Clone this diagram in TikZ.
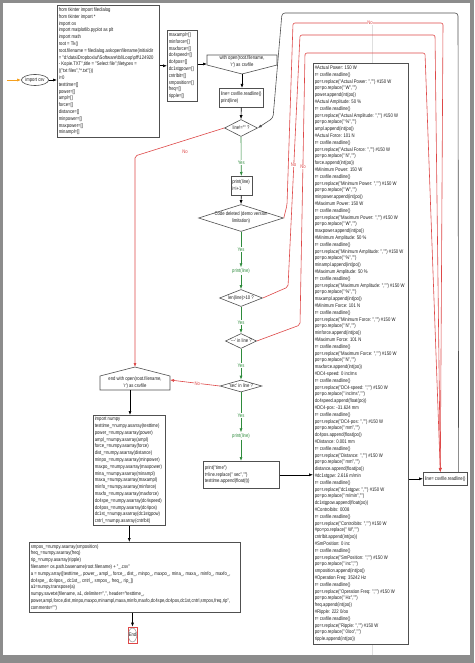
\documentclass[tikz,border=0pt]{standalone}
\usepackage{fontspec}
\newfontfamily\cf[FakeStretch=0.81,Ligatures=TeXOff]{Liberation Sans}
\usetikzlibrary{shapes.geometric,arrows.meta,calc}

\definecolor{framec}{RGB}{140,140,140}
\definecolor{boxc}{RGB}{80,80,80}
\definecolor{redc}{RGB}{222,72,72}
\definecolor{greenc}{RGB}{46,139,60}
\definecolor{orangec}{RGB}{245,160,30}
\definecolor{txtc}{RGB}{30,30,30}

\newcommand\codelines[2]{\makebox[#1][l]{\begin{tabular}{@{}l@{}}#2\end{tabular}}}
\newcommand\grp[6]{\##1: #2\\ r= csvfile.readline()\\ po=r.replace("#1: ","") \#150 W\\ #3po=po.replace(" #4","")\\ #5.append(#6(po))}

\begin{document}
\begin{tikzpicture}[x=1pt,y=-1pt,
  every node/.style={font=\cf\fontsize{5.2}{6.8}\selectfont, text=txtc},
  cbx/.style={draw=boxc, fill=white, line width=0.6pt, inner xsep=1.5pt, inner ysep=0pt, anchor=north west},
  dia/.style={diamond, draw=boxc, fill=white, line width=0.6pt, inner sep=0pt},
  pent/.style={draw=boxc, fill=white, line width=0.6pt},
  ylbl/.style={inner sep=0.6pt, fill=white, text=greenc},
  nlbl/.style={inner sep=0.6pt, fill=white, text=redc},
  arr/.style={-{Latex[length=4pt,width=3pt]}, line width=0.6pt, draw=black},
  garr/.style={-{Latex[length=4pt,width=3pt]}, line width=0.6pt, draw=greenc},
  rarr/.style={-{Latex[length=4pt,width=3pt]}, line width=0.6pt, draw=redc, rounded corners=2pt},
]
\useasboundingbox (0,0) rectangle (474,663);
\fill[framec] (0,0) rectangle (474,663);
\fill[white] (3,3) rectangle (470,655);
\draw[gray!25, line width=0.4pt] (372,24) -- (372,655);

% start
\coordinate (src) at (7,80);
\node[ellipse, draw=boxc, fill=white, line width=0.6pt, minimum width=24pt, minimum height=11pt, inner sep=0pt] (csv) at (35,80) {import csv};

\node[cbx, minimum height=132pt] (A) at (57,5) {\codelines{99pt}{%
from tkinter import filedialog\\
from tkinter import *\\
import os\\
import matplotlib.pyplot as plt\\
import math\\
root = Tk()\\
root.filename = filedialog.askopenfilename(initialdir\\
= "d:\textbackslash data\textbackslash Dropbox\textbackslash uf\textbackslash Software\textbackslash tbl\textbackslash Loop\textbackslash pff\textbackslash 124920\\
- Kopie.TXT",title = "Select file",filetypes =\\
(("txt files","*.txt")))\\
i=0\\
testtime=[]\\
power=[]\\
ampl=[]\\
force=[]\\
distance=[]\\
minpower=[]\\
maxpower=[]\\
minampl=[]}};

\node[cbx, minimum height=71pt] (B) at (167,30) {\codelines{27pt}{%
maxampl=[]\\
minforce=[]\\
maxforce=[]\\
dc4speed=[]\\
dc4pos=[]\\
dc1stgpow=[]\\
cntrlbit=[]\\
smposition=[]\\
freq=[]\\
ripple=[]}};

% with open
\draw[pent] (207,55) -- (277,55) -- (277,65) -- (242,74) -- (207,65) -- cycle;
\node[align=center, inner sep=0pt] (w1) at (242,61.5) {with open(root.filename,\\'r') as csvfile};
\coordinate (w1l) at (207,64);
\coordinate (w1b) at (242,74);

\node[cbx, minimum height=19pt] (C) at (219,88) {\codelines{41pt}{line= csvfile.readline()\\print(line)}};

\node[dia, minimum width=33pt, minimum height=17pt] (d1) at (241,128) {};
\node[inner sep=0pt] (d1t) at (d1) {line!="" ?};

\node[cbx, minimum height=19pt] (D) at (230.5,176) {\codelines{18pt}{print(line)\\i=i+1}};

\node[dia, minimum width=85pt, minimum height=27pt] (d2) at (241,218) {};
\node[align=center, inner sep=0pt] (d2t) at (d2) {Code deleted (demo version\\limitation)};

\node[inner sep=1pt, text=greenc] (p1) at (241,271) {print(line)};

\node[dia, minimum width=43pt, minimum height=17pt] (d3) at (241,298) {};
\node[inner sep=0pt] (d3t) at (d3) {len(line)>10 ?};

\node[dia, minimum width=31pt, minimum height=15pt] (d4) at (241,341) {};
\node[inner sep=0pt] (d4t) at (d4) {'---' in line ?};

\node[dia, minimum width=42pt, minimum height=12pt] (d5) at (241,386) {};
\node[inner sep=0pt] (d5t) at (d5) {'sec' in line ?};

\node[inner sep=1pt, text=greenc] (p2) at (241,436) {print(line)};

\node[cbx, minimum height=27pt] (G) at (203,461) {\codelines{73pt}{%
print("time")\\
t=line.replace(" sec","")\\
testtime.append(float(t))}};

\node[cbx, minimum height=581pt] (H) at (313,63) {\codelines{92pt}{%
\grp{Actual Power}{150 W}{}{W}{power}{int}\\
\grp{Actual Amplitude}{50 \%}{}{\%}{ampl}{int}\\
\grp{Actual Force}{101 N}{}{N}{force}{int}\\
\grp{Minimum Power}{150 W}{}{W}{minpower}{int}\\
\grp{Maximum Power}{150 W}{}{W}{maxpower}{int}\\
\grp{Minimum Amplitude}{50 \%}{}{\%}{minampl}{int}\\
\grp{Maximum Amplitude}{50 \%}{}{\%}{maxampl}{int}\\
\grp{Minimum Force}{101 N}{}{N}{minforce}{int}\\
\grp{Maximum Force}{101 N}{}{N}{maxforce}{int}\\
\grp{DC4-speed}{0 inc/ms}{}{inc/ms}{dc4speed}{float}\\
\grp{DC4-pos}{-31.624 mm}{}{mm}{dc4pos}{float}\\
\grp{Distance}{0.001 mm}{}{mm}{distance}{float}\\
\grp{dc1stgpw}{2.616 m/min}{}{m/min}{dc1stgpow}{float}\\
\grp{Controlbits}{0008}{\#}{W}{cntrlbit}{int}\\
\grp{SmPosition}{0 inc}{}{inc}{smposition}{int}\\
\grp{Operation Freq}{35242 Hz}{}{Hz}{freq}{int}\\
\grp{Ripple}{222 0/oo}{}{0/oo}{ripple}{int}}};

\node[cbx, minimum height=13pt] (I) at (423,472) {\codelines{41pt}{line= csvfile.readline()}};

% end with open
\draw[pent] (135,367) -- (170,376) -- (170,390) -- (100,390) -- (100,376) -- cycle;
\node[align=center, inner sep=0pt] (w2) at (135,382.5) {end with open(root.filename,\\'r') as csvfile};
\coordinate (w2top) at (135,367);
\coordinate (w2r) at (170,380);
\coordinate (w2b) at (130,390);

\node[cbx, minimum height=110pt] (E) at (93,415) {\codelines{69pt}{%
import numpy\\
testtime\_=numpy.asarray(testtime)\\
power\_=numpy.asarray(power)\\
ampl\_=numpy.asarray(ampl)\\
force\_=numpy.asarray(force)\\
dist\_=numpy.asarray(distance)\\
minpo\_=numpy.asarray(minpower)\\
maxpo\_=numpy.asarray(maxpower)\\
mina\_=numpy.asarray(minampl)\\
maxa\_=numpy.asarray(maxampl)\\
minfo\_=numpy.asarray(minforce)\\
maxfo\_=numpy.asarray(maxforce)\\
dc4spe\_=numpy.asarray(dc4speed)\\
dc4pos\_=numpy.asarray(dc4pos)\\
dc1st\_=numpy.asarray(dc1stgpow)\\
cntrl\_=numpy.asarray(cntrlbit)}};

\node[cbx, minimum height=70pt] (F) at (29,542) {\codelines{208pt}{%
smpos\_=numpy.asarray(smposition)\\
freq\_=numpy.asarray(freq)\\
rip\_=numpy.asarray(ripple)\\
filename= os.path.basename(root.filename) + "\_.csv"\\
a = numpy.array([testtime\_, power\_, ampl\_, force\_, dist\_, minpo\_, maxpo\_, mina\_, maxa\_, minfo\_, maxfo\_,\\
dc4spe\_, dc4pos\_, dc1st\_, cntrl\_, smpos\_, freq\_, rip\_])\\
a1=numpy.transpose(a)\\
numpy.savetxt(filename, a1, delimiter=",", header="testtime\_,\\
power,ampl,force,dist,minpo,maxpo,minampl,maxa,minfo,maxfo,dc4spe,dc4pos,dc1st,cntrl,smpos,freq,rip",\\
comments="")}};

\node[draw=redc, line width=0.6pt, fill=white, minimum width=9pt, minimum height=16pt, inner sep=0pt] (endn) at (132.5,635) {End};
\draw[boxc!70, line width=0.4pt] (endn.center) ellipse (4.2pt and 7pt);

% black connectors
\draw[orangec, -{Latex[length=4pt,width=3pt]}, line width=0.7pt] (src) -- (csv.west);
\draw[arr] (csv.east) -- (csv.east -| A.west);
\draw[arr] (A.east |- B.west) -- (B.west);
\draw[arr] (B.east |- w1l) -- (w1l);
\draw[arr] (w1b) -- (w1b |- C.north);
\draw[arr] (C.south) -- (d1.north);
\draw[arr] (D.south) -- (d2.north);
\draw[arr] (G.east) -- (G.east -| H.west);
\draw[arr] (H.east |- I.west) -- (I.west);
\draw[arr] (w2b) -- (w2b |- E.north);
\draw[arr] (E.south) -- (E.south |- F.north);
\draw[arr] (endn.north |- F.south) -- (endn.north);

% loop back
\coordinate (lpA) at (458,13);
\coordinate (lpB) at (282,13);
\coordinate (lpC) at (273,118);
\draw[arr, draw=boxc, rounded corners=3pt] ([xshift=-9pt]I.north east) -- (lpA) -- (lpB) -- (lpC) -- (d1.east);

% green Yes branches
\draw[garr] (d1.south) -- node[ylbl, pos=0.66] (y1) {Yes} (D.north);
\draw[garr] (d2.south) -- node[ylbl, pos=0.5] (y2) {Yes} (p1.north);
\draw[garr] (p1.south) -- (d3.north);
\draw[garr] (d3.south) -- node[ylbl, pos=0.6] (y3) {Yes} (d4.north);
\draw[garr] (d4.south) -- node[ylbl, pos=0.55] (y4) {Yes} (d5.north);
\draw[garr] (d5.south) -- node[ylbl, pos=0.58] (y5) {Yes} (p2.north);
\draw[garr] (p2.south) -- (p2.south |- G.north);

% red No branches
\coordinate (rc) at ([xshift=-5pt]I.north);
\coordinate (r1a) at (287,205);
\coordinate (r1b) at (293,23);
\coordinate (r1c) at (443,23);
\coordinate (r2a) at (288,287);
\coordinate (r2b) at (300,35);
\coordinate (r2c) at (435,35);
\coordinate (r3a) at (300,325);
\coordinate (r3b) at (305,53);
\coordinate (r3c) at (425,53);
\coordinate (rl) at (135,156);
\draw[rarr] (d2.east) -- (r1a) -- (r1b) -- (r1c) -- (rc);
\draw[rarr] (d3.east) -- (r2a) -- (r2b) -- (r2c) -- (rc);
\draw[rarr] (d4.east) -- (r3a) -- (r3b) -- (r3c) -- (rc);
\draw[rarr] (d1.west) -- (rl) -- (w2top);
\draw[rarr] (d5.west) -- node[nlbl, pos=0.45] (n5) {No} (w2r);
\node[nlbl] (n1) at (370,23) {No};
\node[nlbl] (n2) at (293.5,165) {No};
\node[nlbl] (n3) at (303,167) {No};
\node[nlbl, fill=none] (n4) at (185,152) {No};
\end{tikzpicture}
\end{document}
